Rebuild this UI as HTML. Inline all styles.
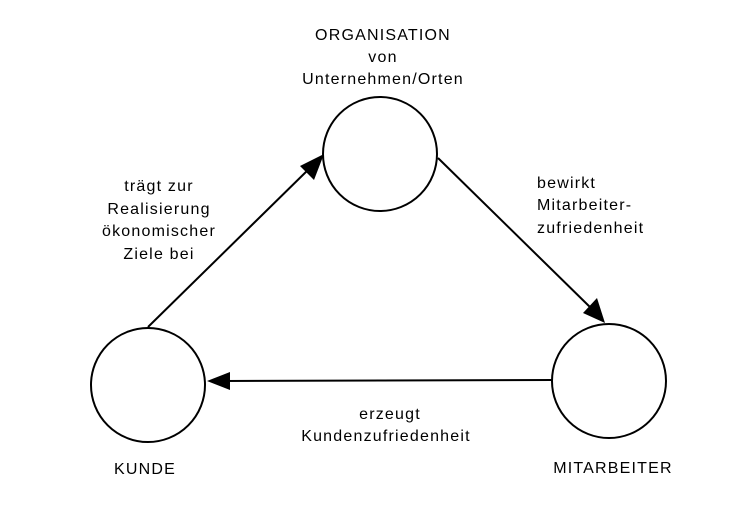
<!DOCTYPE html>
<html><head><style>
body{margin:0;background:#fff;}
svg{display:block}
text{font-family:"Liberation Sans",sans-serif;font-size:16px;letter-spacing:1.2px;fill:#000}
</style></head><body>
<svg width="740" height="524" viewBox="0 0 740 524">
<g fill="none" stroke="#000" stroke-width="2">
<circle cx="380" cy="154" r="57"/>
<circle cx="609" cy="381" r="57"/>
<circle cx="148" cy="385" r="57"/>
<line x1="148" y1="327" x2="312" y2="166"/>
<line x1="438" y1="158" x2="593" y2="310"/>
<line x1="552" y1="380" x2="222" y2="381"/>
</g>
<g fill="#000">
<polygon points="324,154 300,166 314,180"/>
<polygon points="605,323 583,313 597,298"/>
<polygon points="207,381 230,372 230,390"/>
</g>
<g text-anchor="middle">
<text x="383" y="40">ORGANISATION</text>
<text x="383" y="62">von</text>
<text x="383" y="84">Unternehmen/Orten</text>
<text x="159" y="191">trägt zur</text>
<text x="159" y="214">Realisierung</text>
<text x="159" y="236">ökonomischer</text>
<text x="159" y="259">Ziele bei</text>
<text x="390" y="419">erzeugt</text>
<text x="386" y="441">Kundenzufriedenheit</text>
<text x="145" y="474">KUNDE</text>
<text x="613" y="473">MITARBEITER</text>
</g>
<text x="537" y="188">bewirkt</text>
<text x="537" y="210">Mitarbeiter-</text>
<text x="537" y="233">zufriedenheit</text>
</svg>
</body></html>
